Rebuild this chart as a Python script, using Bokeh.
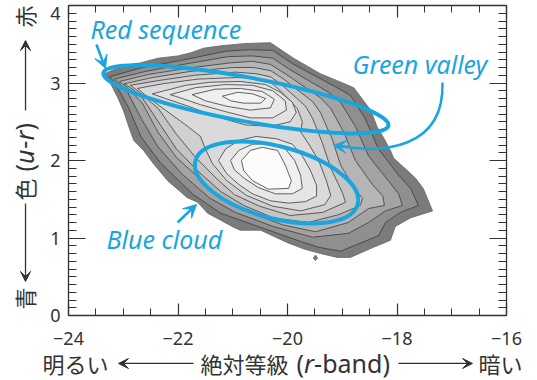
import numpy as np
from bokeh.plotting import figure
from bokeh.models import (FixedTicker, LinearAxis, Label, Arrow, VeeHead,
                          ColumnDataSource, Range1d)
from bokeh.embed import file_html
from bokeh.resources import INLINE

CYAN = "#1aa5df"
INK = "#333333"

# ---------------- axis ticks ----------------
x_major = [-24, -22, -20, -18, -16]
x_labels = ["−24", "−22", "−20", "−18", "−16"]
x_minor = [-24 + 0.5 * i for i in range(17)]
y_major = [0, 1, 2, 3, 4]
y_labels = ["0", "1", "2", "3", "4"]
y_minor = [round(0.1 * i, 1) for i in range(41)]

# ---------------- density contours (r-band mag, u-r colour) ----------------
outer = [(-23.34, 3.12), (-23.00, 3.23), (-22.68, 3.26), (-22.37, 3.32), (-22.00, 3.35),
         (-21.77, 3.39), (-21.53, 3.45), (-21.22, 3.48), (-20.77, 3.51), (-20.31, 3.52),
         (-20.10, 3.42), (-19.89, 3.32), (-19.40, 3.12), (-19.09, 3.03), (-18.79, 2.94),
         (-18.61, 2.77), (-18.48, 2.65), (-18.36, 2.43), (-18.25, 2.30), (-18.12, 2.13),
         (-18.06, 2.03), (-17.81, 1.87), (-17.66, 1.77), (-17.52, 1.64), (-17.35, 1.35),
         (-17.75, 1.26), (-18.03, 1.15), (-18.12, 0.97), (-18.43, 0.88), (-18.85, 0.75),
         (-19.09, 0.75), (-19.40, 0.80), (-19.71, 0.86), (-20.00, 0.94), (-20.49, 1.10),
         (-20.86, 1.10), (-20.99, 1.14), (-21.22, 1.23), (-21.46, 1.32), (-21.64, 1.46),
         (-21.83, 1.52), (-22.19, 1.74), (-22.45, 1.96), (-22.63, 2.13), (-22.81, 2.26),
         (-22.92, 2.48), (-23.00, 2.65), (-23.10, 2.81), (-23.23, 2.99)]
level1 = [(-23.25, 3.08), (-22.65, 3.20), (-21.95, 3.29), (-21.13, 3.41), (-20.68, 3.43),
          (-20.27, 3.42), (-19.91, 3.25), (-19.12, 2.95), (-18.85, 2.84), (-18.58, 2.54),
          (-18.34, 2.15), (-17.97, 1.81), (-17.75, 1.64), (-17.61, 1.42), (-17.94, 1.33),
          (-18.21, 1.20), (-18.34, 1.03), (-19.03, 0.83), (-19.43, 0.88), (-19.82, 0.97),
          (-20.58, 1.16), (-21.22, 1.32), (-21.72, 1.56), (-22.32, 1.97), (-22.68, 2.31),
          (-22.90, 2.68), (-23.16, 3.01)]
level2 = [(-23.16, 3.05), (-22.59, 3.15), (-21.90, 3.24), (-21.08, 3.34), (-20.64, 3.35),
          (-20.27, 3.32), (-19.95, 3.17), (-19.25, 2.88), (-19.03, 2.75), (-18.76, 2.44),
          (-18.52, 2.06), (-18.16, 1.74), (-17.97, 1.57), (-17.90, 1.42), (-18.21, 1.35),
          (-18.52, 1.20), (-18.89, 1.06), (-19.54, 1.01), (-20.27, 1.15), (-20.95, 1.33),
          (-21.41, 1.51), (-21.92, 1.82), (-22.37, 2.18), (-22.67, 2.54), (-22.92, 2.88),
          (-23.05, 2.98)]
level3 = [(-23.07, 3.02), (-22.54, 3.11), (-21.84, 3.19), (-21.04, 3.26), (-20.64, 3.28),
          (-20.31, 3.24), (-20.02, 3.11), (-19.40, 2.81), (-19.21, 2.67), (-18.96, 2.35),
          (-18.76, 2.00), (-18.45, 1.69), (-18.26, 1.54), (-18.23, 1.42), (-18.52, 1.38),
          (-18.89, 1.20), (-19.49, 1.08), (-20.09, 1.17), (-20.71, 1.34), (-21.19, 1.50),
          (-21.53, 1.72), (-22.03, 2.04), (-22.37, 2.37), (-22.65, 2.74), (-22.94, 2.95)]
level4 = [(-22.98, 2.99), (-22.47, 3.07), (-21.77, 3.15), (-21.00, 3.20), (-20.62, 3.20),
          (-20.31, 3.16), (-20.07, 3.05), (-19.54, 2.76), (-19.40, 2.62), (-19.18, 2.27),
          (-19.03, 1.94), (-18.78, 1.64), (-18.63, 1.51), (-18.67, 1.42), (-19.07, 1.30),
          (-19.62, 1.20), (-20.26, 1.26), (-20.80, 1.42), (-21.22, 1.60), (-21.63, 1.86),
          (-22.03, 2.15), (-22.36, 2.50), (-22.67, 2.83), (-22.83, 2.92)]
level5 = [(-22.87, 2.97), (-22.37, 3.03), (-21.70, 3.10), (-20.95, 3.14), (-20.58, 3.12),
          (-20.31, 3.08), (-20.11, 2.98), (-19.67, 2.70), (-19.54, 2.54), (-19.36, 2.22),
          (-19.21, 1.90), (-19.00, 1.59), (-18.94, 1.46), (-19.36, 1.33), (-19.95, 1.29),
          (-20.51, 1.41), (-20.97, 1.56), (-21.30, 1.77), (-21.68, 2.04), (-22.03, 2.34),
          (-22.36, 2.67), (-22.72, 2.89)]
level6 = [(-22.74, 2.93), (-22.28, 2.99), (-21.64, 3.05), (-20.93, 3.07), (-20.57, 3.06),
          (-20.31, 3.01), (-20.13, 2.90), (-19.82, 2.67), (-19.73, 2.50), (-19.76, 2.37),
          (-19.62, 2.22), (-19.43, 2.00), (-19.29, 1.74), (-19.21, 1.55), (-19.32, 1.43),
          (-19.76, 1.35), (-20.27, 1.41), (-20.75, 1.55), (-21.11, 1.74), (-21.37, 1.96),
          (-21.50, 2.15), (-21.59, 2.31), (-21.86, 2.46), (-22.23, 2.65), (-22.54, 2.81)]
red7 = [(-22.47, 2.86), (-21.86, 2.97), (-21.41, 3.01), (-20.86, 3.02), (-20.40, 2.98),
        (-20.13, 2.88), (-19.91, 2.75), (-19.84, 2.62), (-19.95, 2.50), (-20.31, 2.44),
        (-20.77, 2.46), (-21.32, 2.57), (-21.81, 2.70), (-22.23, 2.80)]
red8 = [(-22.14, 2.85), (-21.68, 2.94), (-21.13, 2.98), (-20.64, 2.97), (-20.27, 2.90),
        (-20.04, 2.77), (-20.02, 2.65), (-20.27, 2.55), (-20.68, 2.55), (-21.13, 2.63),
        (-21.59, 2.72), (-21.92, 2.80)]
red9 = [(-21.74, 2.85), (-21.32, 2.92), (-20.86, 2.93), (-20.46, 2.89), (-20.24, 2.79),
        (-20.31, 2.68), (-20.68, 2.65), (-21.11, 2.70), (-21.50, 2.77)]
red10 = [(-21.19, 2.83), (-20.91, 2.88), (-20.64, 2.86), (-20.40, 2.80), (-20.49, 2.74),
         (-20.80, 2.74), (-21.04, 2.77)]
blue7 = [(-21.26, 2.00), (-21.13, 2.15), (-20.89, 2.26), (-20.57, 2.31), (-20.20, 2.28),
         (-19.91, 2.21), (-19.73, 2.06), (-19.58, 1.87), (-19.47, 1.68), (-19.47, 1.54),
         (-19.67, 1.47), (-19.98, 1.45), (-20.31, 1.48), (-20.64, 1.57), (-20.89, 1.69),
         (-21.11, 1.83)]
blue8 = [(-21.04, 2.00), (-20.89, 2.13), (-20.64, 2.21), (-20.31, 2.22), (-20.04, 2.15),
         (-19.87, 2.00), (-19.76, 1.81), (-19.73, 1.64), (-19.91, 1.57), (-20.22, 1.57),
         (-20.53, 1.65), (-20.79, 1.77), (-20.97, 1.88)]
blue9 = [(-20.84, 2.00), (-20.68, 2.13), (-20.46, 2.17), (-20.18, 2.13), (-20.04, 1.94),
         (-19.93, 1.74), (-19.98, 1.64), (-20.35, 1.63), (-20.64, 1.74), (-20.80, 1.87)]
drop = [(-19.53, 0.74), (-19.49, 0.78), (-19.45, 0.74), (-19.49, 0.71)]

contours = [outer, level1, level2, level3, level4, level5, level6,
            red7, red8, red9, red10, blue7, blue8, blue9, drop]
fills = ["#7b7b7b", "#8f8f8f", "#a3a3a3", "#b5b5b5", "#c4c4c4", "#d0d0d0", "#dadada",
         "#e2e2e2", "#e9e9e9", "#efefef", "#f4f4f4", "#e6e6e6", "#f0f0f0", "#fcfcfc", "#7b7b7b"]
edges = ["#666666"] + ["#3c3c3c"] * 13 + ["#666666"]

# ---------------- layout (pixels of the 537x380 canvas) ----------------
W, H = 537, 380
BOX_L, BOX_R, BOX_T, BOX_B = 68, 506, 5, 315
sx = (BOX_R - BOX_L) / 8.0      # px per magnitude
sy = (BOX_B - BOX_T) / 4.0      # px per colour unit
x_rng = Range1d(-24 - BOX_L / sx, -16 + (W - BOX_R) / sx)
y_rng = Range1d(0 - (H - BOX_B) / sy, 4 + BOX_T / sy)

p = figure(width=W, height=H, x_range=x_rng, y_range=y_rng,
           x_axis_type=None, y_axis_type=None,
           output_backend="svg", toolbar_location=None, min_border=0,
           min_border_left=0, min_border_right=0, min_border_top=0, min_border_bottom=0)
p.grid.visible = False
p.outline_line_color = None
p.background_fill_color = "white"
p.border_fill_color = "white"

src = ColumnDataSource(dict(xs=[[q[0] for q in c] for c in contours],
                            ys=[[q[1] for q in c] for c in contours],
                            fill=fills, edge=edges))
p.patches("xs", "ys", source=src, fill_color="fill", line_color="edge", line_width=0.8)


def make_axis(ticks, minor, loc, bounds, major_in, minor_in, labels):
    ax = LinearAxis(ticker=FixedTicker(ticks=ticks, minor_ticks=minor),
                    fixed_location=loc, bounds=bounds)
    ax.major_tick_in = major_in
    ax.major_tick_out = 0
    ax.minor_tick_in = minor_in
    ax.minor_tick_out = 0
    ax.axis_line_color = INK
    ax.axis_line_width = 1.3
    ax.major_tick_line_color = INK
    ax.major_tick_line_width = 1.2
    ax.minor_tick_line_color = INK
    ax.minor_tick_line_width = 1.0
    ax.major_label_text_font = "Noto Sans"
    ax.major_label_text_font_size = "18px"
    if labels is None:
        ax.major_label_text_color = None
    else:
        ax.major_label_text_color = INK
        ax.major_label_overrides = {float(k): v for k, v in zip(ticks, labels)}
    return ax


bottom = make_axis(x_major, x_minor, 0, (-24, -16), 12, 7, x_labels)
bottom.major_label_standoff = 16
p.add_layout(bottom, "below")
left = make_axis(y_major[:-1], y_minor, -24, (0, 4), 17, 8, y_labels[:-1])
left.major_label_standoff = 8
p.add_layout(left, "left")
p.add_layout(make_axis(x_major, x_minor, 4, (-24, -16), 12, 7, None), "above")
p.add_layout(make_axis(y_major, y_minor, -16, (0, 4), 17, 8, None), "right")
# top tick label ("4") sits just below its tick, inside the canvas
p.add_layout(Label(x=-24, y=y_major[-1], text=y_labels[-1], x_offset=-8, y_offset=-8,
                   text_font="Noto Sans", text_font_size="18px", text_color=INK,
                   text_align="right", text_baseline="alphabetic"))

# ---------------- cyan annotations ----------------
p.ellipse(x=[-20.76], y=[2.79], width=[290], height=[44], angle=[-0.183],
          width_units="screen", height_units="screen",
          fill_color=None, line_color=CYAN, line_width=4)
p.ellipse(x=[-20.20], y=[1.716], width=[168], height=[72], angle=[-0.262],
          width_units="screen", height_units="screen",
          fill_color=None, line_color=CYAN, line_width=4)
p.bezier(x0=[-17.169], y0=[3.006], x1=[-18.995], y1=[2.181],
         cx0=[-17.133], cy0=[2.129], cx1=[-18.301], cy1=[2.103],
         line_color=CYAN, line_width=2.5)


def arrow(x0, y0, x1, y1, color, lw, size):
    p.add_layout(Arrow(start=None, end=VeeHead(size=size, fill_color=color, line_color=color),
                       x_start=x0, y_start=y0, x_end=x1, y_end=y1,
                       line_color=color, line_width=lw))


arrow(-18.886, 2.174, -19.160, 2.194, CYAN, 2.5, 13)
arrow(-23.49, 3.497, -23.324, 3.187, CYAN, 2.5, 13)
arrow(-22.009, 1.20, -21.662, 1.432, CYAN, 2.5, 13)

CJK = "Noto Sans CJK JP"


def label(x, y, text, font="Noto Sans", size=25, style="normal", color=CYAN, rotated=False):
    # the renderer centres the font box on the anchor: move the anchor so that the
    # alphabetic baseline lands on (x, y)
    d = (0.436 if font == CJK else 0.388) * size
    p.add_layout(Label(x=x, y=y, text=text, text_font=font, text_font_size=f"{size}px",
                       text_font_style=style, text_color=color,
                       angle=np.pi / 2 if rotated else 0.0,
                       x_offset=-d if rotated else 0.0, y_offset=0.0 if rotated else d,
                       text_baseline="alphabetic", text_align="left"))


label(-23.598, 3.574, "Red sequence", style="italic")
label(-18.813, 3.123, "Green valley", style="italic")
label(-23.306, 0.865, "Blue cloud", style="italic")

# ---------------- axis titles ----------------
yb = -0.7355
ya = -0.619
label(-24.475, yb, "明るい", font=CJK, size=22, color=INK)
arrow(-21.717, ya, -23.087, ya, INK, 1.3, 10)
label(-21.589, yb, "絶対等級", font=CJK, size=22, color=INK)
label(-19.836, yb, "(", color=INK)
label(-19.700, yb, "r", style="italic", color=INK)
label(-19.514, yb, "-band)", color=INK)
arrow(-17.973, ya, -16.621, ya, INK, 1.3, 10)
label(-16.511, yb, "暗い", font=CJK, size=22, color=INK)

xb = -24.639
xa = -24.785
label(xb, 0.0774, "青", font=CJK, size=22, color=INK, rotated=True)
arrow(xa, 1.445, xa, 0.439, INK, 1.3, 10)
label(xb, 1.484, "色", font=CJK, size=22, color=INK, rotated=True)
label(xb, 1.858, "(", color=INK, rotated=True)
label(xb, 1.954, "u", style="italic", color=INK, rotated=True)
label(xb, 2.152, "-", color=INK, rotated=True)
label(xb, 2.257, "r", style="italic", color=INK, rotated=True)
label(xb, 2.388, ")", color=INK, rotated=True)
arrow(xa, 2.645, xa, 3.548, INK, 1.3, 10)
label(xb, 3.716, "赤", font=CJK, size=22, color=INK, rotated=True)

open("out.html", "w").write(file_html(p, INLINE))
